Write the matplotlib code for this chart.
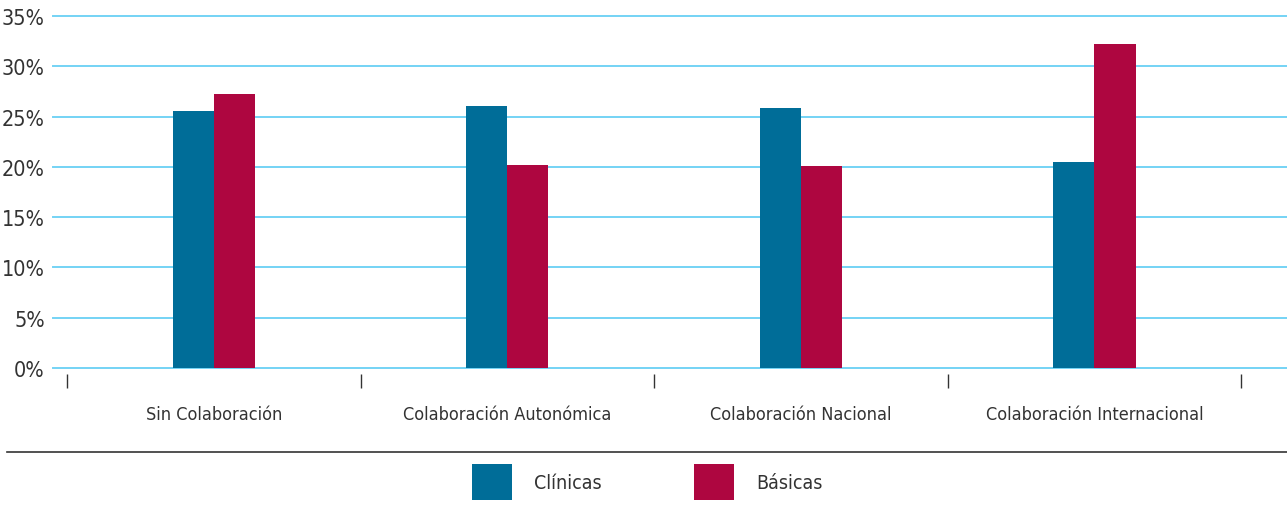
import matplotlib
matplotlib.use("Agg")
import matplotlib.pyplot as plt
from matplotlib.patches import Patch
from matplotlib.lines import Line2D
import numpy as np

categories = ["Sin Colaboración", "Colaboración Autonómica", "Colaboración Nacional", "Colaboración Internacional"]
clinicas = [25.6, 26.1, 25.9, 20.5]
basicas = [27.2, 20.2, 20.1, 32.2]
series_names = ["Clínicas", "Básicas"]
yticks = [0, 5, 10, 15, 20, 25, 30, 35]
ytick_labels = [f"{v}%" for v in yticks]

plt.rcParams['font.family'] = ['DejaVu Sans']
plt.rcParams['font.stretch'] = 'condensed'
txt = "#333333"

W, H = 1287, 510
fig = plt.figure(figsize=(W/100, H/100), dpi=100)
ax = fig.add_axes([53/W, 1-369/H, 1-53/W, 352/H])
ax.spines['bottom'].set_position(('outward', 4.3))
for s in ax.spines.values():
    s.set_visible(False)

x = np.arange(len(categories))
bw = 0.14
ax.bar(x - bw/2, clinicas, width=bw, color="#006d98", zorder=3)
ax.bar(x + bw/2, basicas, width=bw, color="#ae0640", zorder=3)

ax.set_ylim(0, 35)
ax.set_xlim(-0.548, 3.656)
ax.set_yticks(yticks)
ax.set_yticklabels(ytick_labels, fontsize=15.5, color=txt)
ax.yaxis.grid(True, color="#74d3f5", lw=1.4, zorder=0)
for gl in ax.get_ygridlines():
    gl.set_clip_on(False)
ax.tick_params(axis='y', length=0, pad=6)

ax.set_xticks(x)
ax.set_xticklabels(categories, fontsize=13, color=txt)
ax.set_xticks(np.arange(-0.5, 4.0, 1.0), minor=True)
ax.tick_params(axis='x', which='major', length=0, pad=22)
ax.tick_params(axis='x', which='minor', length=10, width=1, color="#333333", direction='out')

fig.add_artist(Line2D([7/W, 1], [1-453/H, 1-453/H], color="#333333", lw=1.2, transform=fig.transFigure))

handles = [Patch(facecolor="#006d98"), Patch(facecolor="#ae0640")]
fig.legend(handles, series_names, loc='center', bbox_to_anchor=(0.503, 1-483/H), ncol=2,
           frameon=False, fontsize=14, handlelength=2.06, handleheight=2.55,
           handletextpad=1.15, columnspacing=4.74, labelcolor=txt)

fig.savefig("out.png", dpi=100)
